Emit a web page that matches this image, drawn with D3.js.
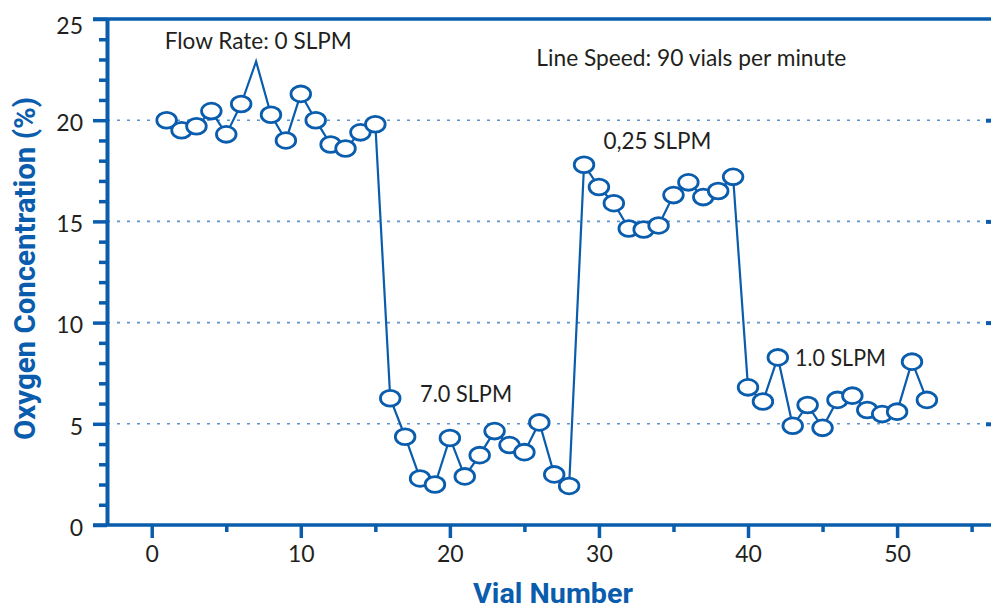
<!DOCTYPE html>
<html>
<head>
<meta charset="utf-8">
<script src="https://cdn.jsdelivr.net/npm/d3@7"></script>
<style>
  html, body { margin: 0; padding: 0; background: #fff; }
  svg { display: block; }
</style>
</head>
<body>
<svg id="chart" width="991" height="609"></svg>
<script>
// ---------- data ----------
const vials = d3.range(1, 53);
const oxygen = [20.0, 19.5, 19.7, 20.45, 19.3, 20.8, null, 20.27, 19.0, 21.3, 20.0, 18.8, 18.6, 19.4, 19.8,
  6.26, 4.36, 2.3, 2.0, 4.3, 2.4, 3.45, 4.64, 3.95, 3.6, 5.07, 2.5, 1.93,
  17.8, 16.7, 15.9, 14.65, 14.6, 14.8, 16.3, 16.93, 16.2, 16.5, 17.2,
  6.8, 6.1, 8.28, 4.9, 5.93, 4.8, 6.18, 6.39, 5.68, 5.48, 5.6, 8.07, 6.18];
const yTicks = [0, 5, 10, 15, 20, 25];
const xTicks = [0, 10, 20, 30, 40, 50];
const xMinorTicks = [5, 15, 25, 35, 45, 55];
const gridValues = [5, 10, 15, 20];
const labelTexts = ["Flow Rate: 0 SLPM", "Line Speed: 90 vials per minute", "0,25 SLPM", "7.0 SLPM", "1.0 SLPM"];
const labelVial = [0.87, 25.8, 30.3, 18.0, 43.15];
const labelValue = [23.5, 22.67, 18.58, 6.09, 7.86];
const pointerVial = 7, pointerValue = 22.9;
const yTitle = "Oxygen Concentration (%)";
const xTitle = "Vial Number";

// ---------- layout ----------
const BLUE = "#0a5cad";
const GRID = "#5e93cf";
const TEXT = "#231f20";
const svg = d3.select("#chart");
const pLeft = 107, pRight = 991, pTop = 19, pBottom = 525;

const x = d3.scaleLinear().domain([-3, 56.3]).range([pLeft, pRight]);
const y = d3.scaleLinear().domain([0, 25]).range([pBottom, pTop]);

function squeeze(sel, w) {
  sel.each(function () {
    this.setAttribute("textLength", w);
    this.setAttribute("lengthAdjust", "spacingAndGlyphs");
  });
}

// grid
svg.append("g").selectAll("line").data(gridValues).join("line")
  .attr("x1", pLeft).attr("x2", pRight)
  .attr("y1", d => y(d)).attr("y2", d => y(d))
  .attr("stroke", GRID).attr("stroke-width", 1.6)
  .attr("stroke-dasharray", "3,7");

// right small ticks
svg.append("g").attr("transform", `translate(${pRight},0)`)
  .call(d3.axisLeft(y).tickValues(gridValues).tickSize(5).tickFormat(""))
  .call(g => g.select(".domain").remove())
  .call(g => g.selectAll("line").attr("stroke", BLUE).attr("stroke-width", 4));

// y axis
const yAxis = svg.append("g").attr("transform", `translate(${pLeft},0)`)
  .call(d3.axisLeft(y).tickValues(yTicks).tickSize(14).tickPadding(10).tickSizeOuter(0));
yAxis.select(".domain").attr("stroke", BLUE).attr("stroke-width", 4);
yAxis.selectAll(".tick line").attr("stroke", BLUE).attr("stroke-width", 3.5);
yAxis.selectAll(".tick text").attr("fill", TEXT)
  .style("font-family", "Lato, 'Open Sans', sans-serif").style("font-size", "23px")
  .attr("dy", d => d === 25 ? "0.62em" : "0.45em");
svg.append("g").attr("transform", `translate(${pLeft},0)`)
  .call(d3.axisLeft(y).tickValues(d3.range(0, 26).filter(v => v % 5 !== 0)).tickSize(8).tickFormat(""))
  .call(g => g.select(".domain").remove())
  .call(g => g.selectAll("line").attr("stroke", BLUE).attr("stroke-width", 3.5));

// x axis
const xAxis = svg.append("g").attr("transform", `translate(0,${pBottom})`)
  .call(d3.axisBottom(x).tickValues(xTicks).tickSize(13).tickPadding(8).tickSizeOuter(0));
xAxis.select(".domain").remove();
xAxis.selectAll(".tick line").attr("stroke", BLUE).attr("stroke-width", 3.5);
xAxis.selectAll(".tick text").attr("fill", TEXT)
  .style("font-family", "Lato, 'Open Sans', sans-serif").style("font-size", "23px");
svg.append("g").attr("transform", `translate(0,${pBottom})`)
  .call(d3.axisBottom(x).tickValues(xMinorTicks).tickSize(7).tickFormat(""))
  .call(g => g.select(".domain").remove())
  .call(g => g.selectAll("line").attr("stroke", BLUE).attr("stroke-width", 3.5));

// frame lines (top and bottom)
svg.append("line").attr("x1", 93).attr("x2", pRight).attr("y1", pTop).attr("y2", pTop)
  .attr("stroke", BLUE).attr("stroke-width", 3.5);
svg.append("line").attr("x1", 93).attr("x2", pRight).attr("y1", pBottom).attr("y2", pBottom)
  .attr("stroke", BLUE).attr("stroke-width", 3.5);

// data line
const pts = vials.map((v, i) => ({ v, o: oxygen[i] }));
const line = d3.line().defined(d => d.o != null).x(d => x(d.v)).y(d => y(d.o));
svg.append("path").datum(pts).attr("d", line)
  .attr("fill", "none").attr("stroke", BLUE).attr("stroke-width", 2.2);

// pointer callout
const prev = pts.find(d => d.v === pointerVial - 1), next = pts.find(d => d.v === pointerVial + 1);
svg.append("path")
  .datum([prev, { v: pointerVial, o: pointerValue }, next])
  .attr("d", d3.line().x(d => x(d.v)).y(d => y(d.o)))
  .attr("fill", "none").attr("stroke", BLUE).attr("stroke-width", 2.2);

// markers
svg.append("g").selectAll("ellipse").data(pts.filter(d => d.o != null)).join("ellipse")
  .attr("cx", d => x(d.v)).attr("cy", d => y(d.o))
  .attr("rx", 9.8).attr("ry", 7.9)
  .attr("fill", "#fff").attr("stroke", BLUE).attr("stroke-width", 2.8);

// annotations
const labelWidths = [187, 310, 108, 92, 91];
labelTexts.forEach((t, i) => {
  svg.append("text").text(t)
    .attr("x", x(labelVial[i])).attr("y", y(labelValue[i]))
    .attr("fill", TEXT)
    .style("font-family", "Lato, 'Open Sans', sans-serif").style("font-size", "23px")
    .call(s => squeeze(s, labelWidths[i]));
});

// axis titles
svg.append("text").text(yTitle)
  .attr("transform", `translate(35,${(97 + 440) / 2}) rotate(-90)`)
  .attr("text-anchor", "middle").attr("fill", BLUE)
  .style("font-family", "Roboto, 'Open Sans', sans-serif").style("font-weight", 700).style("font-size", "29px")
  .call(s => squeeze(s, 343));
svg.append("text").text(xTitle)
  .attr("x", 553).attr("y", 603)
  .attr("text-anchor", "middle").attr("fill", BLUE)
  .style("font-family", "Roboto, 'Open Sans', sans-serif").style("font-weight", 700).style("font-size", "28px")
  .call(s => squeeze(s, 160));
</script>
</body>
</html>
